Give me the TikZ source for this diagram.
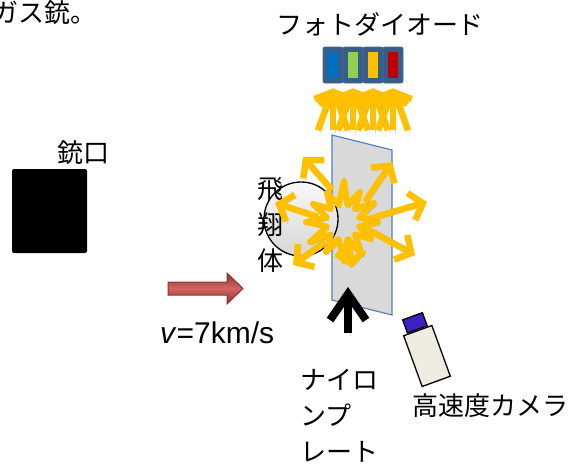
\documentclass[tikz,border=0pt]{standalone}
\usepackage{fontspec}
\setmainfont{Liberation Sans}
\newfontfamily\jpfont{Noto Sans CJK JP}
\usepackage{tikz}
\usetikzlibrary{arrows.meta, positioning, calc}
\definecolor{rayyellow}{RGB}{255,192,0}
\definecolor{diodeblue}{RGB}{56,93,138}
\definecolor{diodeedge}{RGB}{70,105,150}
\definecolor{pdblue}{RGB}{0,112,192}
\definecolor{pdgreen}{RGB}{146,208,80}
\definecolor{pdyellow}{RGB}{255,192,0}
\definecolor{pdred}{RGB}{192,0,0}
\definecolor{platefill}{RGB}{217,217,217}
\definecolor{plateedge}{RGB}{79,129,189}
\definecolor{speeddark}{RGB}{140,52,50}
\definecolor{speedmid}{RGB}{210,100,96}
\definecolor{cambeige}{RGB}{238,236,225}
\definecolor{camcapblue}{RGB}{62,32,192}
\tikzset{
  jptext/.style={font=\jpfont\fontsize{26}{36}\selectfont, inner sep=0pt},
  diode/.style={rectangle, draw=diodeedge, fill=diodeblue,
    minimum width=20pt, minimum height=36pt, rounded corners=2pt,
    line width=0.8pt, inner sep=0pt},
  diodebar/.style={rectangle, minimum width=10pt, minimum height=26pt, inner sep=0pt},
  dropshadow/.style={preaction={draw=black, draw opacity=0.18,
    transform canvas={shift={(2pt,-3pt)}}}},
  ray/.style={draw=rayyellow, line width=6.5pt, dropshadow,
    -{Straight Barb[length=12pt, width=28pt]}},
  blast/.style={draw=rayyellow, line width=6pt, line join=round, dropshadow},
  plate/.style={fill=platefill, draw=plateedge, line width=1.2pt},
  ball/.style={circle, draw=black, line width=1.3pt, minimum size=74pt, inner sep=0pt,
    top color=gray!5, bottom color=gray!32},
  muzzle/.style={rectangle, fill=black, minimum width=75pt, minimum height=84pt,
    rounded corners=2pt, inner sep=0pt},
  speed/.style={draw=speeddark, line width=1pt, top color=speeddark,
    bottom color=speeddark, middle color=speedmid},
  push/.style={draw=black, line width=8pt, dropshadow,
    -{Straight Barb[length=26pt, width=36pt]}},
  cambody/.style={rectangle, draw=black, fill=cambeige, line width=1.3pt,
    minimum width=30pt, minimum height=54pt, inner sep=0pt},
  camcap/.style={rectangle, draw=black, fill=camcapblue, line width=1.3pt,
    minimum width=21pt, minimum height=14pt, inner sep=0pt}
}

\begin{document}
\begin{tikzpicture}[x=1pt, y=-1pt]
  \useasboundingbox (0,0) rectangle (582,464);
  \clip (0,0) rectangle (582,464);

  % caption line running off the left edge
  \node[jptext, anchor=base west] (title) at (-8,22.5) {ガス銃。};

  % muzzle of the gun
  \node[muzzle] (gun) at (49.5,211) {};
  \node[jptext, anchor=base] (gunlabel) at (83,162) {銃口};

  % photodiodes with their filters
  \node[jptext, anchor=base] (pdlabel) at (380,34.5) {フォトダイオード};
  \foreach \c [count=\i from 0] in {pdblue,pdgreen,pdyellow,pdred} {
    \node[diode] (pd\i) at ({333+20*\i},65) {};
    \node[diodebar, fill=\c] at (pd\i) {};
  }
  % light going up into the diodes
  \foreach \i in {0,...,3}
    \foreach \dx in {-15,0,15}
      \draw[ray] ($(pd\i.south)+(\dx,47)$) -- ($(pd\i.south)+(0,5)$);

  % nylon plate
  \draw[plate] (332,135) -- (392,150) -- (392,315) -- (332,300) -- cycle;

  % projectile
  \node[ball] (proj) at (301,219) {};
  \node[jptext, align=center, anchor=north] (projlabel) at (270,177) {飛\\翔\\体};

  % impact flash
  \draw[blast] (344,181) -- (347.5,205) -- (360,192) -- (355,209)
    -- (374,203) -- (359,217.5) -- (378,222) -- (359,226.5)
    -- (371,239) -- (355,234.5) -- (362,254) -- (347.5,239)
    -- (344,261) -- (338.5,239) -- (326,252) -- (331,234.5)
    -- (310,242) -- (327,226.5) -- (306,222) -- (327,217.5)
    -- (313,204) -- (331,209) -- (327,193) -- (338.5,205) -- cycle;

  % light scattered from the flash
  \foreach \n/\s/\e in {ul/{332,190}/{303,157}, l/{318,217}/{275,203},
      ll/{325,242}/{293,265}, d/{348,237}/{352,268}, lr/{367,229}/{415,255},
      r/{365,220}/{427,202}, ur/{365,202}/{392,162}} {
    \coordinate (\n-from) at (\s);
    \coordinate (\n-to) at (\e);
    \draw[ray] (\n-from) -- (\n-to);
  }

  % launch speed
  \draw[speed] (168,282) -- (227,282) -- (227,273) -- (243,288.5)
    -- (227,304) -- (227,295) -- (168,295) -- cycle;
  \node[font=\fontsize{30}{36}\selectfont, inner sep=0pt, anchor=base west]
    (vel) at (160,343) {\textit{v}=7km/s};

  % plate support arrow
  \coordinate (base) at (348,333);
  \coordinate (hit) at (348,287);
  \draw[push] (base) -- (hit);
  \node[jptext, align=left, anchor=north west] (platelabel) at (300,369)
    {ナイロ\\ンプ\\レート};

  % high speed camera
  \node[cambody, rotate=20] (cam) at (427,356) {};
  \node[camcap, rotate=20, anchor=south] (lens) at (cam.north) {};
  \node[jptext, anchor=base west] (camlabel) at (412,415) {高速度カメラ};
\end{tikzpicture}
\end{document}
